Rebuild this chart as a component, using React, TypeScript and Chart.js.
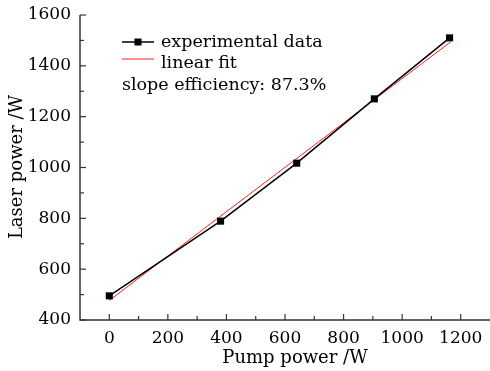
import React, { useEffect, useRef } from 'react';
import { Chart, registerables } from 'chart.js';

Chart.register(...registerables);

const pumpPower = [0, 380, 640, 905, 1162];
const laserPower = [495, 789, 1017, 1270, 1510];
const fitPump = [0, 1165];
const fitLaser = [477, 1494];
const xMajorTicks = [0, 200, 400, 600, 800, 1000, 1200];
const xMinorTicks = [100, 300, 500, 700, 900, 1100];
const yMajorTicks = [400, 600, 800, 1000, 1200, 1400, 1600];
const yMinorTicks = [500, 700, 900, 1100, 1300, 1500];
const legendExperimental = 'experimental data';
const legendFit = 'linear fit';
const slopeNote = 'slope efficiency: 87.3%';
const xTitle = 'Pump power /W';
const yTitle = 'Laser power /W';

const FONT = '"DejaVu Serif", serif';

const decoPlugin = {
  id: 'deco',
  afterDraw(chart: any) {
    const { ctx, chartArea, scales } = chart;
    const xs = scales.x;
    const ys = scales.y;
    ctx.save();
    ctx.strokeStyle = '#333';
    ctx.lineWidth = 1.5;
    ctx.beginPath();
    ctx.moveTo(chartArea.left, chartArea.top);
    ctx.lineTo(chartArea.left, chartArea.bottom);
    ctx.lineTo(chartArea.right, chartArea.bottom);
    ctx.stroke();
    ctx.lineWidth = 1.2;
    const tick = (vals: number[], len: number, horiz: boolean) => {
      vals.forEach((v) => {
        ctx.beginPath();
        if (horiz) {
          const px = xs.getPixelForValue(v);
          ctx.moveTo(px, chartArea.bottom);
          ctx.lineTo(px, chartArea.bottom - len);
        } else {
          const py = ys.getPixelForValue(v);
          ctx.moveTo(chartArea.left, py);
          ctx.lineTo(chartArea.left + len, py);
        }
        ctx.stroke();
      });
    };
    tick(xMajorTicks, 6, true);
    tick(xMinorTicks, 4, true);
    tick(yMajorTicks, 6, false);
    tick(yMinorTicks, 4, false);

    // legend
    const lx = 122;
    const lx2 = 154;
    const y1 = 42;
    const y2 = 59;
    ctx.strokeStyle = '#000';
    ctx.lineWidth = 1.5;
    ctx.beginPath();
    ctx.moveTo(lx, y1);
    ctx.lineTo(lx2, y1);
    ctx.stroke();
    ctx.fillStyle = '#000';
    ctx.fillRect((lx + lx2) / 2 - 3.5, y1 - 3.5, 7, 7);
    ctx.strokeStyle = '#ff2020';
    ctx.lineWidth = 1;
    ctx.beginPath();
    ctx.moveTo(lx, y2);
    ctx.lineTo(lx2, y2);
    ctx.stroke();
    ctx.font = '17.5px ' + FONT;
    ctx.fillStyle = '#000';
    ctx.textBaseline = 'alphabetic';
    ctx.textAlign = 'left';
    ctx.fillText(legendExperimental, 161, 47);
    ctx.fillText(legendFit, 161, 68);
    ctx.fillText(slopeNote, 122, 90);

    // axis titles
    ctx.font = '18px ' + FONT;
    ctx.textAlign = 'center';
    ctx.fillText(xTitle, 295, 363);
    ctx.save();
    ctx.translate(22, 167);
    ctx.rotate(-Math.PI / 2);
    ctx.fillText(yTitle, 0, 0);
    ctx.restore();
    ctx.restore();
  },
};

export default function App() {
  const ref = useRef<HTMLCanvasElement | null>(null);
  useEffect(() => {
    if (!ref.current) return;
    const chart = new Chart(ref.current, {
      type: 'scatter',
      data: {
        datasets: [
          {
            label: legendFit,
            data: fitPump.map((x, i) => ({ x, y: fitLaser[i] })),
            showLine: true,
            borderColor: '#ff2020',
            borderWidth: 1,
            pointRadius: 0,
            order: 1,
          },
          {
            label: legendExperimental,
            data: pumpPower.map((x, i) => ({ x, y: laserPower[i] })),
            showLine: true,
            borderColor: '#000',
            backgroundColor: '#000',
            borderWidth: 1.5,
            pointStyle: 'rect',
            pointRadius: 5,
            pointBorderWidth: 0,
            order: 0,
          },
        ],
      },
      options: {
        responsive: false,
        animation: false,
        layout: { autoPadding: false, padding: { top: 15, right: 0, left: 0, bottom: 0 } },
        plugins: { legend: { display: false }, tooltip: { enabled: false } },
        scales: {
          x: {
            type: 'linear',
            min: -100,
            max: 1300,
            afterBuildTicks: (s: any) => {
              s.ticks = xMajorTicks.map((v) => ({ value: v }));
            },
            afterFit: (s: any) => {
              s.height = 51;
              s.paddingRight = 0;
              s.paddingLeft = 0;
            },
            grid: { display: false },
            border: { display: false },
            ticks: {
              color: '#000',
              font: { family: FONT, size: 17 },
              padding: 0,
              maxRotation: 0,
              callback: (v: any) => String(v),
            },
          },
          y: {
            type: 'linear',
            min: 400,
            max: 1600,
            afterBuildTicks: (s: any) => {
              s.ticks = yMajorTicks.map((v) => ({ value: v }));
            },
            afterFit: (s: any) => {
              s.width = 80;
            },
            grid: { display: false },
            border: { display: false },
            ticks: {
              color: '#000',
              font: { family: FONT, size: 17 },
              padding: 1,
              callback: (v: any) => String(v),
            },
          },
        },
      },
      plugins: [decoPlugin],
    });
    return () => chart.destroy();
  }, []);
  return (
    <div style={{ position: 'fixed', left: 0, top: 0, width: 490, height: 371, background: '#fff' }}>
      <canvas ref={ref} width={490} height={371} />
    </div>
  );
}
